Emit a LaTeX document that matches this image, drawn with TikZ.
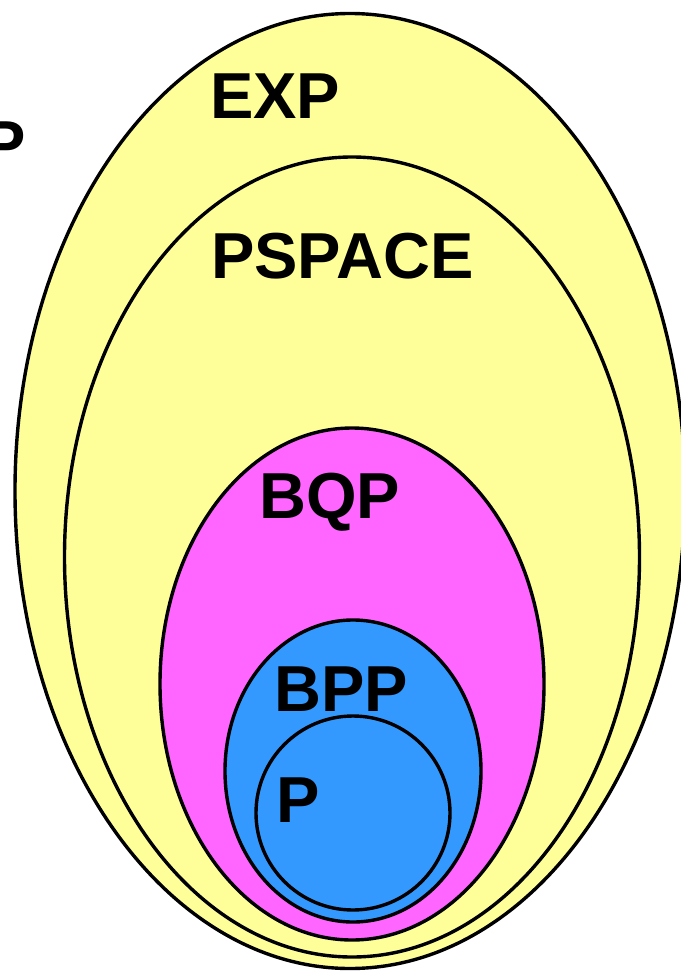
\documentclass[tikz,border=0pt]{standalone}
\usepackage{fontspec}
\setmainfont{Liberation Sans}
\usetikzlibrary{shapes.geometric}
\definecolor{expyellow}{HTML}{FFFF99}
\definecolor{bqpmag}{HTML}{FF66FF}
\definecolor{bppblue}{HTML}{3399FF}
\begin{document}
\begin{tikzpicture}[x=1bp,y=-1bp,
  setshape/.style={ellipse,draw=black,line width=3.4bp,inner sep=0pt},
  setlabel/.style={anchor=base west,inner sep=0pt,font=\fontsize{65bp}{72bp}\selectfont\bfseries}]
\useasboundingbox (0,0) rectangle (681,973);
\clip (0,0) rectangle (681,973);
\node[setshape,fill=expyellow,minimum width=670bp,minimum height=955bp] (exp) at (350,491) {};
\node[setshape,fill=expyellow,minimum width=575bp,minimum height=800bp] (pspace) at (352,557) {};
\node[setshape,fill=bqpmag,minimum width=384bp,minimum height=512bp] (bqp) at (352,684) {};
\node[setshape,fill=bppblue,minimum width=256bp,minimum height=302bp] (bpp) at (353,771) {};
\node[setshape,fill=bppblue,minimum width=194bp,minimum height=194bp] (p) at (353,813) {};
\node[setlabel] (lexp) at (210,118) {EXP};
\node[setlabel] (lpspace) at (211,278) {PSPACE};
\node[setlabel] (lbqp) at (259,518) {BQP};
\node[setlabel] (lbpp) at (274,711) {BPP};
\node[setlabel] (lp) at (276,822) {P};
\node[setlabel] (lcut) at (-18,166) {P};
\end{tikzpicture}
\end{document}
